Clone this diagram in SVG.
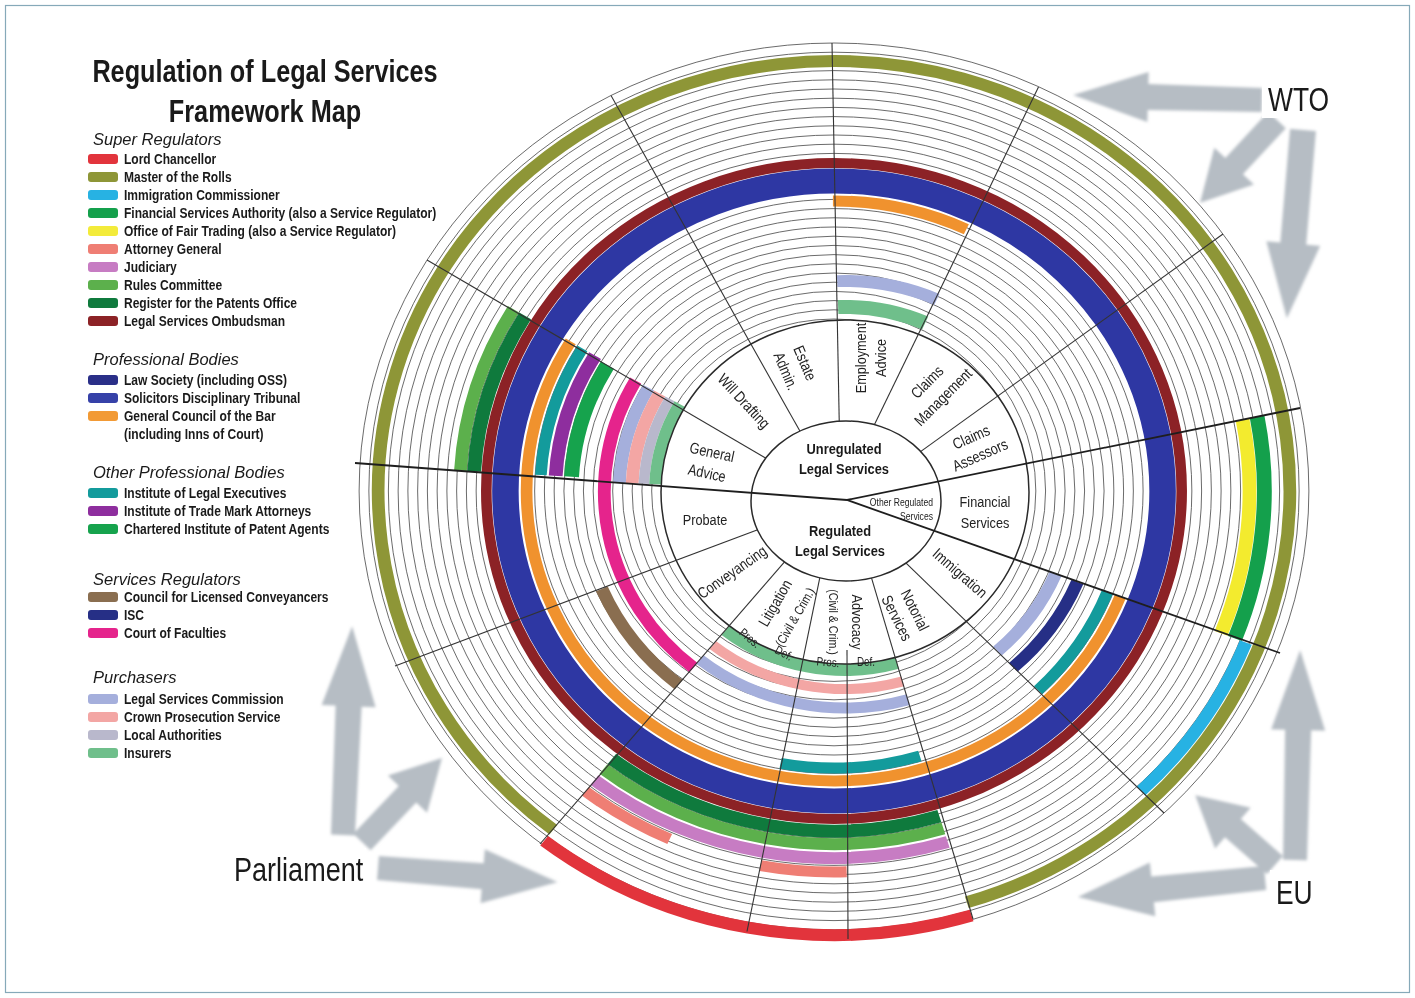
<svg xmlns="http://www.w3.org/2000/svg" width="1415" height="998" viewBox="0 0 1415 998">
<style>
.nar{font-family:"Liberation Sans Narrow","Liberation Sans",Arial,sans-serif}
.leg{font-family:"Liberation Sans Narrow","Liberation Sans",Arial,sans-serif;font-weight:bold;font-size:14.5px;fill:#1a1a1a}
.hd{font-family:"Liberation Sans",Arial,sans-serif;font-style:italic;font-size:16.5px;fill:#1a1a1a}
.lab{font-family:"Liberation Sans Narrow","Liberation Sans",Arial,sans-serif;font-size:15.5px;fill:#222}
.big{font-family:"Liberation Sans Narrow","Liberation Sans",Arial,sans-serif;font-size:33px;fill:#1a1a1a}
.ctr{font-family:"Liberation Sans Narrow","Liberation Sans",Arial,sans-serif;font-weight:bold;font-size:15.5px;fill:#1a1a1a}
.ring{fill:none;stroke:#4a4a4a;stroke-width:0.8}
.b{fill:none}
.sp{stroke:#333;stroke-width:1.1;fill:none}
.maj{stroke:#1e1e1e;stroke-width:1.8;fill:none}
.arr{fill:#b6bdc4}
</style>
<defs>
<filter id="soft" x="-20%" y="-20%" width="140%" height="140%"><feGaussianBlur stdDeviation="1.6"/></filter>
</defs>
<rect x="0" y="0" width="1415" height="998" fill="#ffffff"/>
<rect x="5.5" y="5.5" width="1404" height="987" fill="none" stroke="#86a9b9" stroke-width="1.2"/>

<g id="arrows" filter="url(#soft)">
<polygon class="arr" transform="translate(1262,100) rotate(181.5)" points="0,-12 114,-13 114,-25 189,0 114,25 114,13 0,12"/>
<polygon class="arr" transform="translate(1277,120) rotate(132.9)" points="0,-12 63,-12 63,-27 113,0 63,27 63,12 0,12"/>
<polygon class="arr" transform="translate(1303,130) rotate(94.9)" points="0,-13 114,-13 114,-27 189,0 114,27 114,13 0,13"/>
<polygon class="arr" transform="translate(1295,860) rotate(-88.6)" points="0,-12 130,-13 130,-27 210,0 130,27 130,13 0,12"/>
<polygon class="arr" transform="translate(1275,865) rotate(221.2)" points="0,-12 56,-12 56,-27 106,0 56,27 56,12 0,12"/>
<polygon class="arr" transform="translate(1265,878) rotate(174.2)" points="0,-12 113,-13 113,-27 188,0 113,27 113,13 0,12"/>
<polygon class="arr" transform="translate(343,835) rotate(-87.5)" points="0,-12 129,-13 129,-27 209,0 129,27 129,13 0,12"/>
<polygon class="arr" transform="translate(362,842) rotate(-46.4)" points="0,-12 66,-12 66,-27 116,0 66,27 66,12 0,12"/>
<polygon class="arr" transform="translate(378,868) rotate(4.5)" points="0,-12 105,-13 105,-27 180,0 105,27 105,13 0,12"/>
</g>

<g id="grid" transform="translate(834,491) scale(1.06,1)">
<g class="ring">
<circle r="172"/><circle r="181.2"/><circle r="190.4"/><circle r="199.6"/><circle r="208.8"/><circle r="218"/><circle r="227.2"/><circle r="236.4"/><circle r="245.6"/><circle r="254.8"/><circle r="264"/><circle r="273.2"/><circle r="282.4"/><circle r="291.6"/><circle r="300.8"/><circle r="310"/><circle r="319.2"/><circle r="328.4"/><circle r="337.6"/><circle r="346.8"/><circle r="356"/><circle r="365.2"/><circle r="374.4"/><circle r="383.6"/><circle r="392.8"/><circle r="402"/><circle r="411.2"/><circle r="420.4"/><circle r="429.6"/><circle r="438.8"/><circle r="448"/>
</g>
</g>

<g id="bands-outer" transform="translate(834,491) scale(1.06,1)">
<circle class="b" r="430" stroke="#8e9637" stroke-width="12" stroke-dasharray="2289 9999" transform="rotate(128)"/>
<circle class="b" r="444" stroke="#e2343c" stroke-width="12" stroke-dasharray="426.2 9999" transform="rotate(73)"/>
<circle class="b" r="328" stroke="#8c2226" stroke-width="10"/>
<circle class="b" r="310" stroke="#2e37a3" stroke-width="25"/>
<circle class="b" r="290" stroke="#f0922e" stroke-width="11" stroke-dasharray="130.1 9999" transform="rotate(269.8)"/>
<circle class="b" r="290" stroke="#f0922e" stroke-width="11" stroke-dasharray="960.2 9999" transform="rotate(21.3)"/>
<circle class="b" r="277" stroke="#139b9c" stroke-width="11" stroke-dasharray="133.9 9999" transform="rotate(183.3)"/>
<circle class="b" r="277" stroke="#139b9c" stroke-width="11" stroke-dasharray="132.9 9999" transform="rotate(73)"/>
<circle class="b" r="277" stroke="#139b9c" stroke-width="11" stroke-dasharray="119.4 9999" transform="rotate(21.3)"/>
<circle class="b" r="263" stroke="#8e2e9e" stroke-width="13" stroke-dasharray="127.1 9999" transform="rotate(183.3)"/>
<circle class="b" r="248" stroke="#16a34d" stroke-width="14" stroke-dasharray="117.7 9999" transform="rotate(183.3)"/>
<circle class="b" r="340" stroke="#0f7a3d" stroke-width="13" stroke-dasharray="164.4 9999" transform="rotate(183.3)"/>
<circle class="b" r="340" stroke="#0f7a3d" stroke-width="13" stroke-dasharray="326.4 9999" transform="rotate(73)"/>
<circle class="b" r="353" stroke="#5cb04c" stroke-width="12" stroke-dasharray="170.7 9999" transform="rotate(183.3)"/>
<circle class="b" r="353" stroke="#5cb04c" stroke-width="12" stroke-dasharray="338.9 9999" transform="rotate(73)"/>
<circle class="b" r="367" stroke="#c77cc3" stroke-width="12" stroke-dasharray="352.3 9999" transform="rotate(73)"/>
<circle class="b" r="381" stroke="#ef7e74" stroke-width="11" stroke-dasharray="81.8 9999" transform="rotate(88.2)"/>
<circle class="b" r="381" stroke="#ef7e74" stroke-width="11" stroke-dasharray="93.1 9999" transform="rotate(114)"/>
<circle class="b" r="392" stroke="#f3eb2e" stroke-width="13" stroke-dasharray="217.6 9999" transform="rotate(349.5)"/>
<circle class="b" r="406" stroke="#14a04c" stroke-width="14" stroke-dasharray="225.3 9999" transform="rotate(349.5)"/>
<circle class="b" r="417" stroke="#27b2e3" stroke-width="12" stroke-dasharray="179.8 9999" transform="rotate(21.3)"/>
</g>

<g id="bands-inner" transform="translate(845,492) scale(1.065,1)">
<circle class="b" r="226" stroke="#e5248c" stroke-width="12" stroke-dasharray="317.5 9999" transform="rotate(129)"/>
<circle class="b" r="248" stroke="#8a6e50" stroke-width="12" stroke-dasharray="121.2 9999" transform="rotate(129)"/>
<circle class="b" r="212" stroke="#a5afdc" stroke-width="12" stroke-dasharray="99.9 9999" transform="rotate(182.5)"/>
<circle class="b" r="211" stroke="#a5afdc" stroke-width="12" stroke-dasharray="96.2 9999" transform="rotate(268)"/>
<circle class="b" r="216" stroke="#a5afdc" stroke-width="11" stroke-dasharray="207.3 9999" transform="rotate(74)"/>
<circle class="b" r="214" stroke="#a5afdc" stroke-width="12" stroke-dasharray="95.6 9999" transform="rotate(22.4)"/>
<circle class="b" r="236" stroke="#262f86" stroke-width="12" stroke-dasharray="105.4 9999" transform="rotate(22.4)"/>
<circle class="b" r="200" stroke="#f3a6a4" stroke-width="12" stroke-dasharray="94.2 9999" transform="rotate(182.5)"/>
<circle class="b" r="197" stroke="#f3a6a4" stroke-width="10" stroke-dasharray="189.1 9999" transform="rotate(74)"/>
<circle class="b" r="189" stroke="#b9b8cc" stroke-width="10" stroke-dasharray="89.1 9999" transform="rotate(182.5)"/>
<circle class="b" r="178" stroke="#6fbf8b" stroke-width="12" stroke-dasharray="83.9 9999" transform="rotate(182.5)"/>
<circle class="b" r="178" stroke="#6fbf8b" stroke-width="12" stroke-dasharray="170.9 9999" transform="rotate(74)"/>
<circle class="b" r="185" stroke="#6fbf8b" stroke-width="14" stroke-dasharray="84 9999" transform="rotate(268)"/>
</g>

<g id="sector-ring">
<ellipse cx="845" cy="492" rx="184" ry="172" fill="#ffffff" stroke="#2a2a2a" stroke-width="1.5"/>
</g>

<g id="connectors">
<g class="sp">
<line x1="840" y1="462" x2="832" y2="43"/>
<line x1="807.6" y1="444.8" x2="611" y2="95.5"/>
<line x1="791.6" y1="473.2" x2="427" y2="260"/>
<line x1="865.5" y1="443" x2="1038.5" y2="87"/>
<line x1="894.5" y1="470.4" x2="1223" y2="234"/>
<line x1="881.3" y1="539.2" x2="1164" y2="813"/>
<line x1="861.6" y1="544.7" x2="973" y2="919"/>
<line x1="847" y1="650" x2="848" y2="939"/>
<line x1="828" y1="537.8" x2="747" y2="931.5"/>
<line x1="806.2" y1="536.8" x2="540" y2="844"/>
<line x1="794.4" y1="515.9" x2="395" y2="666"/>
</g>
</g>

<g id="inner-circle">
<ellipse cx="846" cy="501" rx="95" ry="80" fill="#ffffff" stroke="#2a2a2a" stroke-width="1.5"/>
</g>

<g id="major-lines" class="maj">
<line x1="355" y1="463" x2="847" y2="500"/>
<line x1="847" y1="500" x2="1300" y2="408"/>
<line x1="847" y1="500" x2="1280" y2="653"/>
</g>

<g id="centre-labels" text-anchor="middle">
<text class="ctr" transform="translate(844,454) scale(0.83,1)">Unregulated</text>
<text class="ctr" transform="translate(844,474) scale(0.83,1)">Legal Services</text>
<text class="ctr" transform="translate(840,536) scale(0.83,1)">Regulated</text>
<text class="ctr" transform="translate(840,556) scale(0.83,1)">Legal Services</text>
<text class="nar" transform="translate(933,506) scale(0.82,1)" text-anchor="end" font-size="10.5" fill="#222">Other Regulated</text>
<text class="nar" transform="translate(933,520) scale(0.82,1)" text-anchor="end" font-size="10.5" fill="#222">Services</text>
</g>

<g id="sector-labels" class="lab" text-anchor="middle">
<text transform="translate(712,452) rotate(12) scale(0.82,1)" dy="0.35em">General</text>
<text transform="translate(707,473) rotate(12) scale(0.82,1)" dy="0.35em">Advice</text>
<text transform="translate(744,401) rotate(47) scale(0.82,1)" dy="0.35em">Will Drafting</text>
<text transform="translate(805,363) rotate(67) scale(0.82,1)" dy="0.35em">Estate</text>
<text transform="translate(786,371) rotate(67) scale(0.82,1)" dy="0.35em">Admin.</text>
<text transform="translate(861,358) rotate(-90) scale(0.82,1)" dy="0.35em">Employment</text>
<text transform="translate(881,358) rotate(-90) scale(0.82,1)" dy="0.35em">Advice</text>
<text transform="translate(927,382) rotate(-45) scale(0.82,1)" dy="0.35em">Claims</text>
<text transform="translate(943,397) rotate(-45) scale(0.82,1)" dy="0.35em">Management</text>
<text transform="translate(971,437) rotate(-24) scale(0.82,1)" dy="0.35em">Claims</text>
<text transform="translate(980,455) rotate(-24) scale(0.82,1)" dy="0.35em">Assessors</text>
<text transform="translate(985,507) scale(0.82,1)">Financial</text>
<text transform="translate(985,528) scale(0.82,1)">Services</text>
<text transform="translate(705,525) scale(0.82,1)">Probate</text>
<text transform="translate(732,572) rotate(-35) scale(0.82,1)" dy="0.35em">Conveyancing</text>
<text transform="translate(775,603) rotate(-60) scale(0.82,1)" dy="0.35em">Litigation</text>
<text transform="translate(795,617) rotate(-60) scale(0.82,1)" dy="0.35em" font-size="13">(Civil &amp; Crim.)</text>
<text transform="translate(857,622) rotate(90) scale(0.82,1)" dy="0.35em">Advocacy</text>
<text transform="translate(834,622) rotate(90) scale(0.82,1)" dy="0.35em" font-size="13">(Civil &amp; Crim.)</text>
<text transform="translate(915,610) rotate(63) scale(0.82,1)" dy="0.35em">Notorial</text>
<text transform="translate(897,618) rotate(63) scale(0.82,1)" dy="0.35em">Services</text>
<text transform="translate(960,573) rotate(41) scale(0.82,1)" dy="0.35em">Immigration</text>
<text transform="translate(750,638) rotate(40) scale(0.82,1)" dy="0.35em" font-size="12">Pros.</text>
<text transform="translate(784,653) rotate(28) scale(0.82,1)" dy="0.35em" font-size="12">Def.</text>
<text transform="translate(828,662) rotate(5) scale(0.82,1)" dy="0.35em" font-size="12">Pros.</text>
<text transform="translate(866,662) scale(0.82,1)" dy="0.35em" font-size="12">Def.</text>
</g>

<g id="external-labels">
<rect x="1262" y="80" width="70" height="38" fill="#ffffff"/>
<text class="big" transform="translate(1268,111) scale(0.8,1)">WTO</text>
<rect x="1270" y="870" width="42" height="40" fill="#ffffff"/>
<text class="big" transform="translate(1276,904) scale(0.8,1)">EU</text>
<rect x="228" y="848" width="138" height="42" fill="#ffffff"/>
<text class="big" transform="translate(234,881) scale(0.82,1)">Parliament</text>
</g>

<g id="title" transform="translate(265,0) scale(0.815,1)">
<text class="nar" x="0" y="82" text-anchor="middle" font-size="31" font-weight="bold" fill="#1a1a1a">Regulation of Legal Services</text>
<text class="nar" x="0" y="122" text-anchor="middle" font-size="31" font-weight="bold" fill="#1a1a1a">Framework Map</text>
</g>

<g id="legend">
<text class="hd" x="93" y="145">Super Regulators</text>
<rect x="88" y="154" width="30" height="10" rx="3" fill="#e2343c"/>
<rect x="88" y="172" width="30" height="10" rx="3" fill="#8e9637"/>
<rect x="88" y="190" width="30" height="10" rx="3" fill="#27b2e3"/>
<rect x="88" y="208" width="30" height="10" rx="3" fill="#14a04c"/>
<rect x="88" y="226" width="30" height="10" rx="3" fill="#f3eb3a"/>
<rect x="88" y="244" width="30" height="10" rx="3" fill="#ef7e74"/>
<rect x="88" y="262" width="30" height="10" rx="3" fill="#c77cc3"/>
<rect x="88" y="280" width="30" height="10" rx="3" fill="#5cb04c"/>
<rect x="88" y="298" width="30" height="10" rx="3" fill="#0f7a3d"/>
<rect x="88" y="316" width="30" height="10" rx="3" fill="#8c2226"/>
<text class="hd" x="93" y="365">Professional Bodies</text>
<rect x="88" y="375" width="30" height="10" rx="3" fill="#2a2f88"/>
<rect x="88" y="393" width="30" height="10" rx="3" fill="#3641a8"/>
<rect x="88" y="411" width="30" height="10" rx="3" fill="#f29a35"/>
<text class="hd" x="93" y="478">Other Professional Bodies</text>
<rect x="88" y="488" width="30" height="10" rx="3" fill="#139b9c"/>
<rect x="88" y="506" width="30" height="10" rx="3" fill="#8e2e9e"/>
<rect x="88" y="524" width="30" height="10" rx="3" fill="#16a34d"/>
<text class="hd" x="93" y="585">Services Regulators</text>
<rect x="88" y="592" width="30" height="10" rx="3" fill="#8a6e50"/>
<rect x="88" y="610" width="30" height="10" rx="3" fill="#262f86"/>
<rect x="88" y="628" width="30" height="10" rx="3" fill="#e5248c"/>
<text class="hd" x="93" y="683">Purchasers</text>
<rect x="88" y="694" width="30" height="10" rx="3" fill="#a5afdc"/>
<rect x="88" y="712" width="30" height="10" rx="3" fill="#f3a6a4"/>
<rect x="88" y="730" width="30" height="10" rx="3" fill="#b9b8cc"/>
<rect x="88" y="748" width="30" height="10" rx="3" fill="#6fbf8b"/>
<g transform="translate(124,0) scale(0.83,1)">
<text class="leg" x="0" y="164">Lord Chancellor</text>
<text class="leg" x="0" y="182">Master of the Rolls</text>
<text class="leg" x="0" y="200">Immigration Commissioner</text>
<text class="leg" x="0" y="218">Financial Services Authority (also a Service Regulator)</text>
<text class="leg" x="0" y="236">Office of Fair Trading (also a Service Regulator)</text>
<text class="leg" x="0" y="254">Attorney General</text>
<text class="leg" x="0" y="272">Judiciary</text>
<text class="leg" x="0" y="290">Rules Committee</text>
<text class="leg" x="0" y="308">Register for the Patents Office</text>
<text class="leg" x="0" y="326">Legal Services Ombudsman</text>
<text class="leg" x="0" y="385">Law Society (including OSS)</text>
<text class="leg" x="0" y="403">Solicitors Disciplinary Tribunal</text>
<text class="leg" x="0" y="421">General Council of the Bar</text>
<text class="leg" x="0" y="439">(including Inns of Court)</text>
<text class="leg" x="0" y="498">Institute of Legal Executives</text>
<text class="leg" x="0" y="516">Institute of Trade Mark Attorneys</text>
<text class="leg" x="0" y="534">Chartered Institute of Patent Agents</text>
<text class="leg" x="0" y="602">Council for Licensed Conveyancers</text>
<text class="leg" x="0" y="620">ISC</text>
<text class="leg" x="0" y="638">Court of Faculties</text>
<text class="leg" x="0" y="704">Legal Services Commission</text>
<text class="leg" x="0" y="722">Crown Prosecution Service</text>
<text class="leg" x="0" y="740">Local Authorities</text>
<text class="leg" x="0" y="758">Insurers</text>
</g>
</g>
</svg>
